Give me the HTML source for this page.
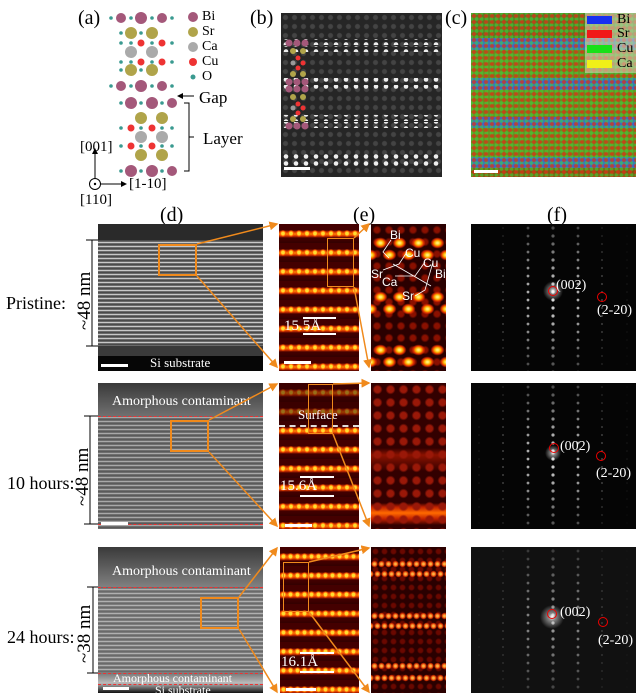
<!DOCTYPE html>
<html><head><style>
body{margin:0;width:640px;height:698px;background:#fff;position:relative;overflow:hidden;font-family:"Liberation Serif",serif;}
.a{position:absolute}
.t{position:absolute;color:#000;font-size:17px;line-height:1}
.w{position:absolute;color:#fff;font-size:13px;line-height:1;white-space:nowrap}
.s{font-family:"Liberation Sans",sans-serif;font-size:12px}
.sb{position:absolute;height:3px;background:#fff}
.box{position:absolute;border:2px solid #f08a1c;box-sizing:border-box}
.red{position:absolute;background:#5a0a00;
 background-image:radial-gradient(circle,#ffdd30 0 1.5px,#ff5a00 2.5px,transparent 3.5px),repeating-linear-gradient(180deg,#400 0 6px,#d23000 8px,#ff8a00 10px,#d23000 12px,#400 14px,#300 19px);
 background-size:8px 19px,100% 19px;}
.yb{position:absolute;left:371px;width:75px;height:12px;background-image:radial-gradient(ellipse 5px 4px,#fff070 0 1px,#ffb000 3px,#e03000 5px,transparent 7px);background-size:19px 12px}
.db{position:absolute;left:371px;width:75px;height:8px;background-image:radial-gradient(circle,#ffb040 0 1px,#d83000 2.5px,transparent 3.5px);background-size:7px 8px}
.ci{position:absolute;width:10px;height:10px;border:1.5px solid #e00;border-radius:50%;box-sizing:border-box}
.dash{position:absolute;border-top:1px dashed #e33}
.bar{position:absolute;height:2px;background:#fff}
</style></head><body>
<svg width="0" height="0" style="position:absolute"><defs>
<pattern id="fp" width="164" height="8" patternUnits="userSpaceOnUse">
<g fill="#ddd"><circle cx="82" cy="4" r="1.6"/><circle cx="57" cy="4" r="1.4"/><circle cx="107" cy="4" r="1.4"/></g>
<g fill="#777"><circle cx="32" cy="4" r="1"/><circle cx="131" cy="4" r="1"/></g>
<g fill="#444"><circle cx="8" cy="4" r=".8"/><circle cx="156" cy="4" r=".8"/></g>
</pattern>
<radialGradient id="fade" cx="50%" cy="50%" r="60%"><stop offset="0" stop-color="#fff"/><stop offset="1" stop-color="#222"/></radialGradient>
<mask id="fm"><rect width="164" height="150" fill="url(#fade)"/></mask>
<radialGradient id="glow"><stop offset="0" stop-color="#fff"/><stop offset=".3" stop-color="rgba(255,255,255,.5)"/><stop offset="1" stop-color="rgba(255,255,255,0)"/></radialGradient>
</defs></svg>

<!-- (a) -->
<div class="t" style="left:78px;top:8px;font-size:20px">(a)</div>
<svg class="a" style="left:0;top:0" width="280" height="205">
<g fill="#a4587a">
<circle cx="121" cy="18" r="5"/><circle cx="141" cy="18" r="6"/><circle cx="162" cy="18" r="5"/>
<circle cx="121" cy="86" r="5"/><circle cx="141" cy="86" r="6"/><circle cx="162" cy="86" r="5"/>
<circle cx="131" cy="103" r="6"/><circle cx="152" cy="103" r="6"/><circle cx="172" cy="103" r="5"/>
<circle cx="131" cy="171" r="6"/><circle cx="152" cy="171" r="6"/><circle cx="172" cy="171" r="5"/>
<circle cx="193" cy="17" r="5"/></g>
<g fill="#b0a44a"><circle cx="131" cy="33" r="6"/><circle cx="152" cy="33" r="6"/><circle cx="131" cy="70" r="6"/><circle cx="152" cy="70" r="6"/>
<circle cx="141" cy="118" r="6"/><circle cx="162" cy="118" r="6"/><circle cx="141" cy="155" r="6"/><circle cx="162" cy="155" r="6"/><circle cx="193" cy="32" r="5"/></g>
<g fill="#aaa"><circle cx="131" cy="52" r="6"/><circle cx="152" cy="52" r="6"/><circle cx="141" cy="137" r="6"/><circle cx="162" cy="137" r="6"/><circle cx="193" cy="47" r="5"/></g>
<g fill="#e33"><circle cx="141" cy="43" r="3.5"/><circle cx="162" cy="43" r="3.5"/><circle cx="141" cy="62" r="3.5"/><circle cx="162" cy="62" r="3.5"/>
<circle cx="131" cy="128" r="3.5"/><circle cx="152" cy="128" r="3.5"/><circle cx="131" cy="146" r="3.5"/><circle cx="152" cy="146" r="3.5"/><circle cx="193" cy="62" r="4"/></g>
<g fill="#3a9a90">
<circle cx="111" cy="18" r="1.8"/><circle cx="131" cy="18" r="1.8"/><circle cx="152" cy="18" r="1.8"/><circle cx="172" cy="18" r="1.8"/>
<circle cx="121" cy="33" r="1.8"/><circle cx="141" cy="33" r="1.8"/>
<circle cx="121" cy="43" r="1.8"/><circle cx="131" cy="43" r="1.8"/><circle cx="152" cy="43" r="1.8"/><circle cx="172" cy="43" r="1.8"/>
<circle cx="121" cy="62" r="1.8"/><circle cx="131" cy="62" r="1.8"/><circle cx="152" cy="62" r="1.8"/><circle cx="172" cy="62" r="1.8"/>
<circle cx="121" cy="70" r="1.8"/><circle cx="141" cy="70" r="1.8"/>
<circle cx="111" cy="86" r="1.8"/><circle cx="131" cy="86" r="1.8"/><circle cx="152" cy="86" r="1.8"/><circle cx="172" cy="86" r="1.8"/>
<circle cx="121" cy="103" r="1.8"/><circle cx="141" cy="103" r="1.8"/><circle cx="162" cy="103" r="1.8"/>
<circle cx="121" cy="128" r="1.8"/><circle cx="141" cy="128" r="1.8"/><circle cx="162" cy="128" r="1.8"/><circle cx="172" cy="128" r="1.8"/>
<circle cx="121" cy="146" r="1.8"/><circle cx="141" cy="146" r="1.8"/><circle cx="162" cy="146" r="1.8"/><circle cx="172" cy="146" r="1.8"/>
<circle cx="121" cy="171" r="1.8"/><circle cx="141" cy="171" r="1.8"/><circle cx="162" cy="171" r="1.8"/>
<circle cx="193" cy="77" r="2.5"/></g>
<line x1="180" y1="96" x2="194" y2="96" stroke="#000"/><path d="M177 96 l6 -3 v6z"/>
<path d="M184 103 h5 v68 h-5 M189 137 h5" stroke="#000" fill="none"/>
<line x1="95" y1="178" x2="95" y2="152" stroke="#000"/><path d="M95 148 l-3 6 h6z"/>
<line x1="101" y1="184" x2="122" y2="184" stroke="#000"/><path d="M127 184 l-6 -3 v6z"/>
<circle cx="95" cy="184" r="5.5" fill="none" stroke="#000"/><circle cx="95" cy="184" r="1.2"/>
</svg>
<div class="t" style="left:202px;top:10px;font-size:14px">Bi</div>
<div class="t" style="left:202px;top:25px;font-size:14px">Sr</div>
<div class="t" style="left:202px;top:40px;font-size:14px">Ca</div>
<div class="t" style="left:202px;top:55px;font-size:14px">Cu</div>
<div class="t" style="left:202px;top:70px;font-size:14px">O</div>
<div class="t" style="left:199px;top:89px">Gap</div>
<div class="t" style="left:203px;top:130px">Layer</div>
<div class="t" style="left:80px;top:140px;font-size:15px">[001]</div>
<div class="t" style="left:129px;top:177px;font-size:15px">[1-10]</div>
<div class="t" style="left:80px;top:193px;font-size:15px">[110]</div>

<!-- (b) -->
<div class="t" style="left:250px;top:8px;font-size:20px">(b)</div>
<div class="a" style="left:281px;top:13px;width:161px;height:164px;background:#262626;
background-image:radial-gradient(circle,#444 0 2px,transparent 3px);background-size:9px 9px"></div>
<svg class="a" style="left:281px;top:13px" width="161" height="164">
<defs><pattern id="bd" width="10" height="7" patternUnits="userSpaceOnUse"><circle cx="5" cy="3.5" r="2.3" fill="#eee"/></pattern></defs>
<rect y="26" width="161" height="6" fill="url(#bd)"/><rect y="33" width="161" height="6" fill="url(#bd)"/>
<rect y="65" width="161" height="6" fill="url(#bd)"/><rect y="72" width="161" height="6" fill="url(#bd)"/>
<rect y="102" width="161" height="6" fill="url(#bd)"/><rect y="109" width="161" height="6" fill="url(#bd)"/>
<rect y="141" width="161" height="6" fill="url(#bd)"/><rect y="148" width="161" height="6" fill="url(#bd)"/>
<g fill="#a4587a"><circle cx="8" cy="30" r="3.5"/><circle cx="16" cy="30" r="3.5"/><circle cx="24" cy="30" r="3.5"/><circle cx="8" cy="69" r="3.5"/><circle cx="16" cy="69" r="3.5"/><circle cx="24" cy="69" r="3.5"/><circle cx="8" cy="76" r="3.5"/><circle cx="16" cy="76" r="3.5"/><circle cx="24" cy="76" r="3.5"/><circle cx="8" cy="113" r="3.5"/><circle cx="16" cy="113" r="3.5"/><circle cx="24" cy="113" r="3.5"/></g>
<g fill="#b0a44a"><circle cx="12" cy="38" r="3"/><circle cx="22" cy="38" r="3"/><circle cx="12" cy="61" r="3"/><circle cx="22" cy="61" r="3"/><circle cx="12" cy="84" r="3"/><circle cx="22" cy="84" r="3"/><circle cx="12" cy="106" r="3"/><circle cx="22" cy="106" r="3"/></g>
<g fill="#e33"><circle cx="17" cy="45" r="2.5"/><circle cx="22" cy="50" r="2.5"/><circle cx="17" cy="55" r="2.5"/><circle cx="17" cy="91" r="2.5"/><circle cx="22" cy="95" r="2.5"/><circle cx="17" cy="100" r="2.5"/></g>
<g fill="#999"><circle cx="12" cy="50" r="2.5"/><circle cx="12" cy="95" r="2.5"/></g>
</svg>
<div class="sb" style="left:284px;top:167px;width:26px"></div>

<!-- (c) -->
<div class="t" style="left:445px;top:8px;font-size:20px">(c)</div>
<div class="a" style="left:471px;top:13px;width:165px;height:164px;
background:linear-gradient(180deg,#5a7a20 0 25px,#3a68c8 25px 37px,#6a8a20 37px 65px,#3a68c8 65px 77px,#6a8a20 77px 104px,#3a68c8 104px 115px,#6a8a20 115px 144px,#3a68c8 144px 155px,#7a5a10 155px)"></div>
<div class="a" style="left:471px;top:13px;width:165px;height:164px;
background-image:radial-gradient(circle,rgba(220,50,20,.75) 0 1.5px,transparent 2.5px),radial-gradient(circle,rgba(60,220,60,.55) 0 1.5px,transparent 2.5px);background-size:6px 6px,5px 6px;background-position:0 0,3px 3px"></div>
<div class="a" style="left:585px;top:13px;width:51px;height:60px;background:rgba(210,210,180,.6)"></div>
<div class="a" style="left:587px;top:16px;width:25px;height:8px;background:#1830f0"></div>
<div class="a" style="left:587px;top:30px;width:25px;height:8px;background:#f01818"></div>
<div class="a" style="left:587px;top:45px;width:25px;height:8px;background:#18e018"></div>
<div class="a" style="left:587px;top:60px;width:25px;height:8px;background:#f0f018"></div>
<div class="t" style="left:617px;top:13px;font-size:14px">Bi</div>
<div class="t" style="left:617px;top:27px;font-size:14px">Sr</div>
<div class="t" style="left:617px;top:42px;font-size:14px">Cu</div>
<div class="t" style="left:617px;top:57px;font-size:14px">Ca</div>
<div class="sb" style="left:474px;top:170px;width:24px"></div>

<!-- column labels -->
<div class="t" style="left:160px;top:205px;font-size:20px">(d)</div>
<div class="t" style="left:353px;top:205px;font-size:20px">(e)</div>
<div class="t" style="left:547px;top:205px;font-size:20px">(f)</div>

<!-- Row 1 -->
<div class="a" style="left:98px;top:224px;width:165px;height:147px;background:#2a2a2a"></div>
<div class="a" style="left:98px;top:240px;width:165px;height:106px;background:repeating-linear-gradient(180deg,#4a4a4a 0 1.5px,#c8c8c8 2px 3px,#4a4a4a 3.5px 4px)"></div>
<div class="a" style="left:98px;top:346px;width:165px;height:10px;background:#3a3a3a"></div>
<div class="a" style="left:98px;top:356px;width:165px;height:15px;background:#060606"></div>
<div class="w" style="left:150px;top:356px;font-size:13px">Si substrate</div>
<div class="sb" style="left:101px;top:364px;width:27px"></div>
<div class="box" style="left:158px;top:244px;width:39px;height:32px"></div>
<div class="t" style="left:6px;top:294px;font-size:18px">Pristine:</div>
<div class="t" style="left:75px;top:330px;font-size:19px;transform:rotate(-90deg);transform-origin:0 0;white-space:nowrap">~48 nm</div>

<div class="red" style="left:279px;top:224px;width:80px;height:147px"></div>
<div class="box" style="left:327px;top:238px;width:27px;height:49px;border-width:1.5px"></div>
<div class="bar" style="left:303px;top:317px;width:33px"></div>
<div class="bar" style="left:303px;top:333px;width:33px"></div>
<div class="w" style="left:284px;top:319px;font-size:15px">15.5Å</div>
<div class="sb" style="left:284px;top:361px;width:27px"></div>

<div class="a" style="left:371px;top:224px;width:75px;height:147px;background:#2a0000;background-image:radial-gradient(circle,#8a1000 0 2.5px,transparent 4.5px);background-size:12px 12px"></div>
<div class="yb" style="top:237px"></div>
<div class="yb" style="top:249px;background-position:9px 0"></div>
<div class="yb" style="top:291px"></div>
<div class="yb" style="top:303px;background-position:9px 0"></div>
<div class="yb" style="top:344px"></div>
<div class="yb" style="top:356px;background-position:9px 0"></div>
<div class="w s" style="left:390px;top:229px">Bi</div>
<div class="w s" style="left:405px;top:247px">Cu</div>
<div class="w s" style="left:423px;top:257px">Cu</div>
<div class="w s" style="left:371px;top:268px">Sr</div>
<div class="w s" style="left:382px;top:276px">Ca</div>
<div class="w s" style="left:435px;top:268px">Bi</div>
<div class="w s" style="left:402px;top:290px">Sr</div>
<svg class="a" style="left:371px;top:224px" width="75" height="147"><g stroke="#fff" stroke-width=".8" fill="none"><path d="M20 16 L12 28 L18 34"/><path d="M36 28 L28 40 L12 46"/><path d="M54 38 L44 52 L24 52"/><path d="M62 38 L54 66 L44 72"/><path d="M22 40 L60 62"/></g></svg>

<div class="a" style="left:471px;top:224px;width:165px;height:147px;background:#050505"></div>
<svg class="a" style="left:471px;top:224px" width="165" height="147"><rect width="165" height="147" fill="url(#fp)" mask="url(#fm)"/><circle cx="82" cy="67" r="10" fill="url(#glow)"/></svg>
<div class="ci" style="left:548px;top:286px"></div>
<div class="ci" style="left:597px;top:292px"></div>
<div class="w" style="left:556px;top:279px;font-size:14px">(002)</div>
<div class="w" style="left:597px;top:304px;font-size:14px">(2-20)</div>

<!-- Row 2 -->
<div class="a" style="left:98px;top:383px;width:165px;height:146px;background:#555;
background-image:repeating-linear-gradient(180deg,#5a5a5a 0 1.5px,#a8a8a8 2px 3px,#5a5a5a 3.5px 4px)"></div>
<div class="a" style="left:98px;top:383px;width:165px;height:33px;background:linear-gradient(#3a3a3a,#707070)"></div>
<div class="dash" style="left:98px;top:416px;width:165px"></div>
<div class="dash" style="left:98px;top:524px;width:165px"></div>
<div class="w" style="left:112px;top:395px;font-size:14px">Amorphous contaminant</div>
<div class="box" style="left:170px;top:420px;width:39px;height:32px"></div>
<div class="sb" style="left:101px;top:522px;width:27px"></div>
<div class="t" style="left:7px;top:474px;font-size:18px">10 hours:</div>
<div class="t" style="left:73px;top:506px;font-size:19px;transform:rotate(-90deg);transform-origin:0 0;white-space:nowrap">~48 nm</div>

<div class="red" style="left:279px;top:383px;width:80px;height:146px"></div>
<div class="a" style="left:279px;top:383px;width:80px;height:42px;background:rgba(50,0,0,.5)"></div>
<div class="a" style="left:279px;top:425px;width:80px;border-top:2px dashed #ddd"></div>
<div class="w" style="left:298px;top:408px;font-size:13px">Surface</div>
<div class="box" style="left:308px;top:384px;width:25px;height:50px;border-width:1.5px"></div>
<div class="bar" style="left:300px;top:476px;width:34px"></div>
<div class="bar" style="left:300px;top:495px;width:34px"></div>
<div class="w" style="left:280px;top:479px;font-size:15px">15.6Å</div>
<div class="sb" style="left:285px;top:524px;width:27px"></div>
<div class="a" style="left:371px;top:383px;width:75px;height:146px;background:#300;
background-image:radial-gradient(circle,#9a1808 0 3px,transparent 5px),linear-gradient(180deg,transparent 0 65px,rgba(200,30,0,.6) 72px,transparent 88px 120px,#c02000 124px,#ff6a00 130px,#c02000 136px,transparent 142px);background-size:13px 13px,100% 100%"></div>

<div class="a" style="left:471px;top:383px;width:165px;height:146px;background:#050505"></div>
<svg class="a" style="left:471px;top:383px" width="165" height="146"><rect width="165" height="146" fill="url(#fp)" mask="url(#fm)"/><circle cx="82" cy="70" r="8" fill="url(#glow)"/></svg>
<div class="ci" style="left:549px;top:443px"></div>
<div class="ci" style="left:596px;top:451px"></div>
<div class="w" style="left:560px;top:440px;font-size:14px">(002)</div>
<div class="w" style="left:596px;top:467px;font-size:14px">(2-20)</div>

<!-- Row 3 -->
<div class="a" style="left:98px;top:547px;width:165px;height:146px;background:#666;
background-image:repeating-linear-gradient(180deg,#6a6a6a 0 1.5px,#b0b0b0 2px 3px,#6a6a6a 3.5px 4px)"></div>
<div class="a" style="left:98px;top:547px;width:165px;height:40px;background:linear-gradient(#3a3a3a,#808080)"></div>
<div class="a" style="left:98px;top:673px;width:165px;height:20px;background:linear-gradient(#777,#bbb 50%,#111)"></div>
<div class="dash" style="left:98px;top:587px;width:165px"></div>
<div class="dash" style="left:98px;top:673px;width:165px"></div>
<div class="dash" style="left:98px;top:684px;width:165px"></div>
<div class="w" style="left:112px;top:565px;font-size:14px">Amorphous contaminant</div>
<div class="w" style="left:113px;top:672px;font-size:12px">Amorphous contaminant</div>
<div class="w" style="left:155px;top:684px;font-size:12px">Si substrate</div>
<div class="box" style="left:200px;top:597px;width:39px;height:32px"></div>
<div class="sb" style="left:103px;top:687px;width:26px"></div>
<div class="t" style="left:7px;top:628px;font-size:18px">24 hours:</div>
<div class="t" style="left:75px;top:663px;font-size:19px;transform:rotate(-90deg);transform-origin:0 0;white-space:nowrap">~38 nm</div>

<div class="red" style="left:280px;top:547px;width:79px;height:146px;background-size:7px 19px,100% 19px"></div>
<div class="box" style="left:283px;top:562px;width:26px;height:50px;border-width:1.5px"></div>
<div class="bar" style="left:300px;top:652px;width:34px"></div>
<div class="bar" style="left:300px;top:671px;width:34px"></div>
<div class="w" style="left:281px;top:655px;font-size:15px">16.1Å</div>
<div class="sb" style="left:286px;top:688px;width:30px"></div>
<div class="a" style="left:371px;top:547px;width:75px;height:146px;background:#2a0000;background-image:radial-gradient(circle,#6a0800 0 2px,transparent 3.5px);background-size:9px 9px"></div>
<div class="db" style="top:560px"></div>
<div class="db" style="top:570px;background-position:3px 0"></div>
<div class="db" style="top:612px"></div>
<div class="db" style="top:622px;background-position:3px 0"></div>
<div class="db" style="top:662px"></div>
<div class="db" style="top:674px;background-position:3px 0"></div>

<div class="a" style="left:471px;top:547px;width:165px;height:146px;background:#111"></div>
<svg class="a" style="left:471px;top:547px" width="165" height="146"><rect width="165" height="146" fill="url(#fp)" mask="url(#fm)" opacity=".7"/><circle cx="81" cy="70" r="12" fill="url(#glow)"/></svg>
<div class="ci" style="left:547px;top:609px"></div>
<div class="ci" style="left:598px;top:617px"></div>
<div class="w" style="left:560px;top:606px;font-size:14px">(002)</div>
<div class="w" style="left:598px;top:634px;font-size:14px">(2-20)</div>

<!-- arrows and brackets (on top) -->
<svg class="a" style="left:0;top:0" width="640" height="698">
<defs><marker id="ar" markerWidth="6" markerHeight="6" refX="5" refY="3" orient="auto"><path d="M0,0 L6,3 L0,6z" fill="#f08a1c"/></marker>
<marker id="ak" markerWidth="6" markerHeight="6" refX="5" refY="3" orient="auto"><path d="M0,0 L6,3 L0,6z" fill="#000"/></marker></defs>
<g stroke="#f08a1c" stroke-width="1.5" fill="none">
<line x1="197" y1="244" x2="277" y2="224" marker-end="url(#ar)"/><line x1="197" y1="276" x2="277" y2="367" marker-end="url(#ar)"/>
<line x1="354" y1="238" x2="369" y2="224" marker-end="url(#ar)"/><line x1="354" y1="287" x2="369" y2="367" marker-end="url(#ar)"/>
<line x1="209" y1="420" x2="277" y2="384" marker-end="url(#ar)"/><line x1="209" y1="452" x2="277" y2="526" marker-end="url(#ar)"/>
<line x1="333" y1="384" x2="369" y2="383" marker-end="url(#ar)"/><line x1="333" y1="434" x2="369" y2="526" marker-end="url(#ar)"/>
<line x1="239" y1="597" x2="277" y2="548" marker-end="url(#ar)"/><line x1="239" y1="629" x2="277" y2="692" marker-end="url(#ar)"/>
<line x1="309" y1="562" x2="369" y2="548" marker-end="url(#ar)"/><line x1="309" y1="612" x2="369" y2="692" marker-end="url(#ar)"/>
</g>
<g stroke="#000" stroke-width="1">
<line x1="92" y1="240" x2="92" y2="346"/><line x1="86" y1="240" x2="98" y2="240"/><line x1="86" y1="346" x2="98" y2="346"/>
<line x1="90" y1="416" x2="90" y2="524"/><line x1="84" y1="416" x2="98" y2="416"/><line x1="84" y1="524" x2="98" y2="524"/>
<line x1="93" y1="587" x2="93" y2="673"/><line x1="87" y1="587" x2="98" y2="587"/><line x1="87" y1="673" x2="98" y2="673"/></g>
</svg>
</body></html>
